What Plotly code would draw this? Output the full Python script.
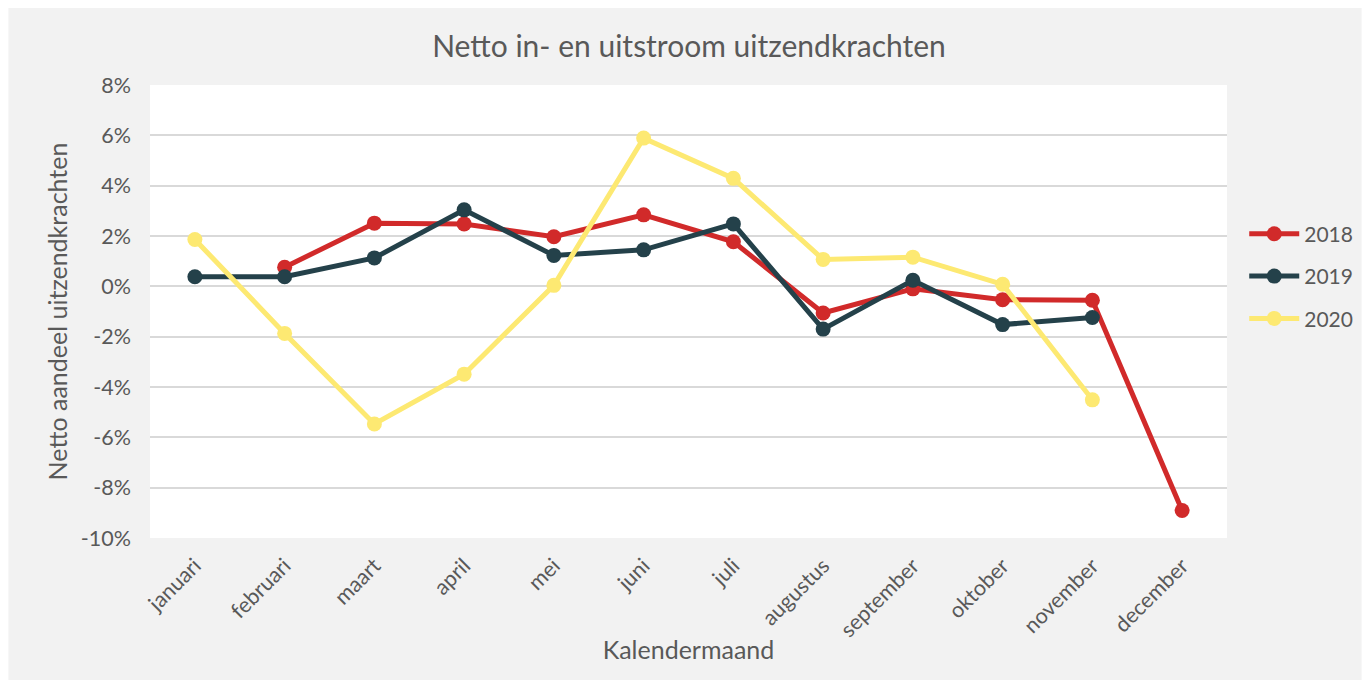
import plotly.graph_objects as go

months = ["januari", "februari", "maart", "april", "mei", "juni", "juli",
          "augustus", "september", "oktober", "november", "december"]
y2018 = [None, 0.76, 2.51, 2.48, 1.97, 2.84, 1.77, -1.06, -0.1, -0.53, -0.55, -8.91]
y2019 = [0.38, 0.38, 1.13, 3.04, 1.23, 1.45, 2.48, -1.70, 0.24, -1.52, -1.24, None]
y2020 = [1.86, -1.87, -5.47, -3.49, 0.04, 5.89, 4.29, 1.07, 1.16, 0.08, -4.51, None]
tickvals = [8, 6, 4, 2, 0, -2, -4, -6, -8, -10]
ticktext = ["8%", "6%", "4%", "2%", "0%", "-2%", "-4%", "-6%", "-8%", "-10%"]

series = [("2018", y2018, "#d12a2a"), ("2019", y2019, "#24414a"), ("2020", y2020, "#fde972")]

FONT = "Lato"
TXT = "#595959"

# page body has an 8px margin; figure is sized so it fills the 1370x683 window
W, H = 1362, 675
L, R, T, B = 142, 140, 77, 145
PW, PH = W - L - R, H - T - B

fig = go.Figure()
for name, vals, col in series:
    fig.add_trace(go.Scatter(
        x=months, y=vals, name=name, mode="lines+markers",
        legendgroup=name,
        line=dict(color=col, width=5),
        marker=dict(color=col, size=15),
        connectgaps=False,
    ))

fig.update_layout(
    width=W, height=H,
    margin=dict(l=L, r=R, t=T, b=B),
    paper_bgcolor="white",
    plot_bgcolor="white",
    title=dict(text="Netto in- en uitstroom uitzendkrachten", x=0.5, xanchor="center",
               y=1 - 38 / H, yanchor="middle",
               font=dict(family=FONT, size=30, color=TXT)),
    font=dict(family=FONT, color=TXT),
    legend=dict(x=1.016, y=0.578, xanchor="left", yanchor="middle",
                font=dict(family=FONT, size=21, color=TXT),
                bgcolor="rgba(0,0,0,0)", itemwidth=50, tracegroupgap=12),
    shapes=[
        dict(type="rect", xref="paper", yref="paper",
             x0=-L / PW, x1=(1357 - L) / PW,
             y0=-(672 - (T + PH)) / PH, y1=1 + T / PH,
             fillcolor="#f2f2f2", line=dict(width=0), layer="below"),
        dict(type="rect", xref="paper", yref="paper", x0=0, x1=1, y0=0, y1=1,
             fillcolor="white", line=dict(width=0), layer="below"),
    ],
)
fig.update_xaxes(
    type="category", categoryorder="array", categoryarray=months,
    range=[-0.5, 11.5], showgrid=False, showline=False, zeroline=False,
    tickangle=-45, ticks="", tickfont=dict(family=FONT, size=21.5, color=TXT),
    ticklabelstandoff=10,
    title=dict(text="Kalendermaand", font=dict(family=FONT, size=25, color=TXT), standoff=0),
)
fig.update_yaxes(
    range=[-10, 8], tickvals=tickvals, ticktext=ticktext,
    showgrid=True, gridcolor="#d9d9d9", gridwidth=1.5, zeroline=False, showline=False,
    tickfont=dict(family=FONT, size=21.5, color=TXT), ticks="", ticklabelstandoff=18,
    title=dict(text="Netto aandeel uitzendkrachten", font=dict(family=FONT, size=25, color=TXT), standoff=6),
)

fig.write_html("out.html")
